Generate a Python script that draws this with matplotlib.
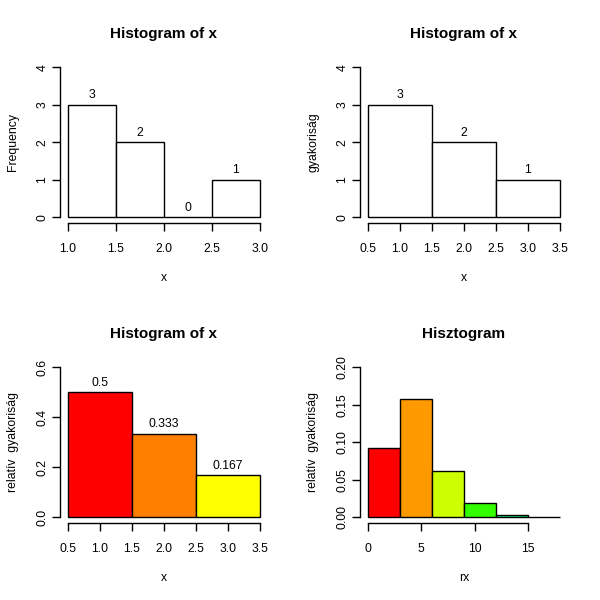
import numpy as np
import matplotlib
matplotlib.use("Agg")
import matplotlib.pyplot as plt

plt.rcParams['font.family'] = ['Liberation Sans', 'DejaVu Sans']

# panel 1: hist(x) with breaks of 0.5
edges1 = [1.0, 1.5, 2.0, 2.5, 3.0]
counts1 = [3, 2, 0, 1]

# panel 2: hist with breaks 0.5..3.5
edges2 = [0.5, 1.5, 2.5, 3.5]
counts2 = [3, 2, 1]

# panel 3: relative frequencies
edges3 = [0.5, 1.5, 2.5, 3.5]
rel3 = [0.5, 0.333, 0.167]
labels3 = ["0.5", "0.333", "0.167"]
colors3 = ["#FF0000", "#FF8000", "#FFFF00"]

# panel 4: Hisztogram of rx
edges4 = [0, 3, 6, 9, 12, 15, 18]
rel4 = [0.092, 0.158, 0.062, 0.019, 0.003, 0.0003]
colors4 = ["#FF0000", "#FF9900", "#CCFF00", "#33FF00", "#00FF66", "#00FFFF"]

TICK = 8.8
TITLE = 11

fig = plt.figure(figsize=(6, 6), dpi=100)


def r_axes(rect, xlim, ylim, xticks, yticks, xlab, ylab, title, ytickfmt=None):
    ax = fig.add_axes(rect)
    dx = (xlim[1] - xlim[0]) * 0.04
    dy = (ylim[1] - ylim[0]) * 0.04
    ax.set_xlim(xlim[0] - dx, xlim[1] + dx)
    ax.set_ylim(ylim[0] - dy, ylim[1] + dy)
    for s in ["top", "right"]:
        ax.spines[s].set_visible(False)
    ax.spines["left"].set_bounds(yticks[0], yticks[-1])
    ax.spines["bottom"].set_bounds(xticks[0], xticks[-1])
    for s in ["left", "bottom"]:
        ax.spines[s].set_linewidth(1.0)
    ax.set_xticks(xticks)
    ax.set_yticks(yticks)
    ax.set_xticklabels([f"{v:.1f}" if isinstance(v, float) else str(v) for v in xticks], fontsize=TICK)
    if ytickfmt is None:
        ylabels = [str(v) for v in yticks]
    else:
        ylabels = [ytickfmt.format(v) for v in yticks]
    ax.set_yticklabels(ylabels, fontsize=TICK, rotation=90, va="center")
    ax.tick_params(length=6, width=1.0, direction="out")
    ax.tick_params(axis="x", pad=8)
    ax.tick_params(axis="y", pad=2.5)
    ax.set_xlabel(xlab, fontsize=TICK, labelpad=12.5)
    ax.set_ylabel(ylab, fontsize=TICK, labelpad=12.5)
    ax.set_title(title, fontsize=TITLE, fontweight="bold", pad=17)
    return ax


def bars(ax, edges, heights, colors, labels=None):
    edges = np.array(edges, dtype=float)
    w = np.diff(edges)
    ax.bar(edges[:-1], heights, width=w, align="edge", color=colors,
           edgecolor="black", linewidth=1.0)
    if labels is not None:
        for x0, ww, h, lab in zip(edges[:-1], w, heights, labels):
            ax.annotate(lab, (x0 + ww / 2, h), xytext=(0, 2.5), textcoords="offset points",
                        ha="center", va="bottom", fontsize=TICK)


# geometry (figure fractions) like R's mfrow=c(2,2)
L1, L2, W = 0.1005, 0.6005, 0.3455
B1, B2, H = 0.628, 0.128, 0.27

ax1 = r_axes([L1, B1, W, H], (1.0, 3.0), (0, 4), [1.0, 1.5, 2.0, 2.5, 3.0],
             [0, 1, 2, 3, 4], "x", "Frequency", "Histogram of x")
bars(ax1, edges1, counts1, "white", [str(c) for c in counts1])

ax2 = r_axes([L2, B1, W, H], (0.5, 3.5), (0, 4), [0.5, 1.0, 1.5, 2.0, 2.5, 3.0, 3.5],
             [0, 1, 2, 3, 4], "x", "gyakoriság", "Histogram of x")
bars(ax2, edges2, counts2, "white", [str(c) for c in counts2])

ax3 = r_axes([L1, B2, W, H], (0.5, 3.5), (0, 0.6), [0.5, 1.0, 1.5, 2.0, 2.5, 3.0, 3.5],
             [0.0, 0.2, 0.4, 0.6], "x", "relatív  gyakoriság", "Histogram of x",
             ytickfmt="{:.1f}")
bars(ax3, edges3, rel3, colors3, labels3)

ax4 = r_axes([L2, B2, W, H], (0, 18), (0, 0.2), [0, 5, 10, 15],
             [0.0, 0.05, 0.10, 0.15, 0.20], "rx", "relatív  gyakoriság", "Hisztogram",
             ytickfmt="{:.2f}")
ax4.spines["bottom"].set_bounds(0, 15)
bars(ax4, edges4, rel4, colors4)

fig.savefig("out.png", dpi=100, facecolor="white")
